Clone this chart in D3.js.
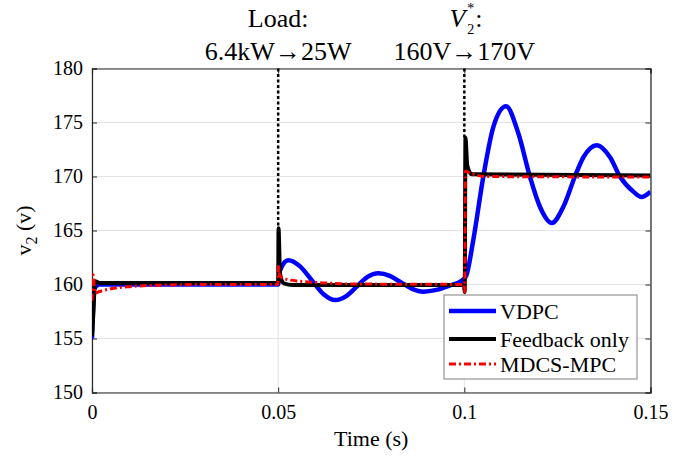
<!DOCTYPE html>
<html><head><meta charset="utf-8">
<script src="https://cdn.jsdelivr.net/npm/d3@7"></script>
<style>
body{margin:0;background:#fff;}
svg text{font-family:"Liberation Serif","Times New Roman",Times,serif !important;fill:#000;}
</style></head>
<body><svg id="c" width="693" height="456"></svg>
<script>
// ---- data ----
const xTicks = [0, 0.05, 0.1, 0.15];
const xTickLabels = ["0", "0.05", "0.1", "0.15"];
const yTicks = [150, 155, 160, 165, 170, 175, 180];
const seriesNames = ["VDPC", "Feedback only", "MDCS-MPC"];

const vdpcT = [0, 0.0006, 0.002, 0.05, 0.0505, 0.0527, 0.0558, 0.059, 0.0622, 0.0653, 0.0682, 0.0711, 0.074, 0.0769, 0.080, 0.083, 0.086, 0.089, 0.0925, 0.096, 0.0995,
               0.1005, 0.1024, 0.1051, 0.1078, 0.1112, 0.1145, 0.1176, 0.1203, 0.1235, 0.1266, 0.1297, 0.1320, 0.1356, 0.1391, 0.1418, 0.1454, 0.1476, 0.15];
const vdpcV = [155.0, 159.6, 160.0, 160.0, 161.3, 162.25, 161.7, 160.4, 159.1, 158.56, 158.9, 159.8, 160.7, 161.04, 160.8, 160.2, 159.6, 159.34, 159.5, 159.9, 160.4,
               160.8, 164.1, 170.0, 174.6, 176.5, 174.0, 170.0, 167.2, 165.7, 167.2, 170.0, 171.8, 172.9, 171.8, 170.0, 168.6, 168.1, 168.6];

const fbT = [0, 0.0004, 0.0008, 0.002, 0.05, 0.0501, 0.0505, 0.0515, 0.054, 0.0999, 0.1001, 0.1003, 0.1008, 0.102, 0.15];
const fbV = [155.2, 157.5, 160.3, 160.15, 160.15, 165.2, 161.0, 160.1, 159.95, 159.95, 159.3, 173.6, 171.0, 170.2, 170.1];

const mpcT = [0, 0.0003, 0.0008, 0.002, 0.005, 0.01, 0.02, 0.03, 0.0499, 0.0501, 0.0504, 0.052, 0.056, 0.062, 0.07, 0.0999, 0.1001, 0.1003, 0.101, 0.103, 0.106, 0.15];
const mpcV = [158.5, 160.9, 159.2, 159.35, 159.6, 159.8, 159.95, 160.0, 160.0, 161.8, 160.8, 160.5, 160.3, 160.15, 160.05, 160.0, 159.3, 170.5, 170.4, 170.15, 170.0, 169.95];

const eventTimes = [0.05, 0.1];
const eventTops = [165.2, 173.6];

// ---- layout ----
const FONT = '"Liberation Serif","Times New Roman",Times,serif';
const svg = d3.select("#c");
const L = 92, R = 650.5, T = 68.5, B = 392.5;
const x = d3.scaleLinear().domain([0, 0.15]).range([L, R]);
const y = d3.scaleLinear().domain([150, 180]).range([B, T]);

// grid
const g = svg.append("g");
g.selectAll(".gx").data(xTicks).join("line")
  .attr("x1", d => x(d)).attr("x2", d => x(d)).attr("y1", T).attr("y2", B)
  .attr("stroke", "#e3e3e3").attr("stroke-width", 1);
g.selectAll(".gy").data(yTicks).join("line")
  .attr("x1", L).attr("x2", R).attr("y1", d => y(d)).attr("y2", d => y(d))
  .attr("stroke", "#e3e3e3").attr("stroke-width", 1);

// axes with inward ticks
const tk = 5;
const axB = svg.append("g").attr("transform", `translate(0,${B})`)
  .call(d3.axisBottom(x).tickValues(xTicks).tickSize(-tk).tickPadding(12).tickFormat((d,i)=>xTickLabels[i]));
const axT = svg.append("g").attr("transform", `translate(0,${T})`)
  .call(d3.axisTop(x).tickValues(xTicks).tickSize(-tk).tickFormat(""));
const axL = svg.append("g").attr("transform", `translate(${L},0)`)
  .call(d3.axisLeft(y).tickValues(yTicks).tickSize(-tk).tickPadding(9));
const axR = svg.append("g").attr("transform", `translate(${R},0)`)
  .call(d3.axisRight(y).tickValues(yTicks).tickSize(-tk).tickFormat(""));
[axB, axT, axL, axR].forEach(a => {
  a.attr("font-family", FONT).attr("font-size", 20);
  a.selectAll("path").attr("stroke", "#262626").attr("stroke-width", 1.2);
  a.selectAll("line").attr("stroke", "#262626");
  a.selectAll("text").attr("fill", "#262626");
});
axB.selectAll("text").attr("dy", "0.71em");

// clip
svg.append("clipPath").attr("id", "clip").append("rect")
  .attr("x", L).attr("y", T - 2).attr("width", R - L).attr("height", B - T + 2);

// event dotted lines
svg.append("g").selectAll("line").data(eventTimes).join("line")
  .attr("x1", d => x(d)).attr("x2", d => x(d)).attr("y1", T)
  .attr("y2", (d, i) => y(eventTops[i]))
  .attr("stroke", "#000").attr("stroke-width", 2.5).attr("stroke-dasharray", "3,2.5");

const line = d3.line().x(d => x(d[0])).y(d => y(d[1])).curve(d3.curveMonotoneX);
const plot = svg.append("g").attr("clip-path", "url(#clip)");
plot.append("path").datum(d3.zip(vdpcT, vdpcV)).attr("d", line)
  .attr("fill", "none").attr("stroke", "#0000ff").attr("stroke-width", 4.5).attr("stroke-linejoin", "round");
plot.append("path").datum(d3.zip(fbT, fbV)).attr("d", line)
  .attr("fill", "none").attr("stroke", "#000").attr("stroke-width", 4).attr("stroke-linejoin", "round");
plot.append("path").datum(d3.zip(mpcT, mpcV)).attr("d", line)
  .attr("fill", "none").attr("stroke", "#ff0000").attr("stroke-width", 3).attr("stroke-dasharray", "7,3,2,3");

// annotations
const ann = svg.append("g").attr("font-family", FONT).attr("font-size", 26).attr("text-anchor", "middle");
ann.append("text").attr("x", x(0.05)).attr("y", 27).text("Load:");
ann.append("text").attr("x", x(0.05)).attr("y", 60).text("6.4kW\u219225W");
ann.append("text").attr("x", x(0.1) + 1).attr("y", 27).attr("text-anchor", "end").style("font-style", "italic").text("V");
ann.append("text").attr("x", x(0.1) + 3).attr("y", 34).attr("text-anchor", "start").attr("font-size", 14).text("2");
ann.append("text").attr("x", x(0.1) + 3).attr("y", 13).attr("text-anchor", "start").attr("font-size", 14).text("*");
ann.append("text").attr("x", x(0.1) + 11).attr("y", 27).attr("text-anchor", "start").text(":");
ann.append("text").attr("x", x(0.1)).attr("y", 60).text("160V\u2192170V");

// axis labels
svg.append("text").attr("x", (L + R) / 2).attr("y", 446).attr("text-anchor", "middle")
  .attr("font-family", FONT).attr("font-size", 22).attr("fill", "#262626").text("Time (s)");
const yl = svg.append("text").attr("transform", `translate(31,${(T + B) / 2}) rotate(-90)`).attr("text-anchor", "middle")
  .attr("font-family", FONT).attr("font-size", 22).attr("fill", "#262626");
yl.append("tspan").text("v");
yl.append("tspan").attr("dy", 6).attr("font-size", 16).text("2");
yl.append("tspan").attr("dy", -6).text(" (v)");

// legend
const lg = svg.append("g").attr("font-family", FONT).attr("font-size", 22);
lg.append("rect").attr("x", 444).attr("y", 295).attr("width", 193).attr("height", 84)
  .attr("fill", "#fff").attr("stroke", "#7f7f7f").attr("stroke-width", 1);
const lcol = ["#0000ff", "#000", "#ff0000"], lw = [4.5, 4, 3], ldash = [null, null, "7,3,2,3"];
const rowsY = [311, 339, 364];
seriesNames.forEach((n, i) => {
  lg.append("line").attr("x1", 449).attr("x2", 496).attr("y1", rowsY[i]).attr("y2", rowsY[i])
    .attr("stroke", lcol[i]).attr("stroke-width", lw[i]).attr("stroke-dasharray", ldash[i]);
  lg.append("text").attr("x", 500).attr("y", rowsY[i]).attr("dy", "0.35em").text(n);
});
</script></body></html>
